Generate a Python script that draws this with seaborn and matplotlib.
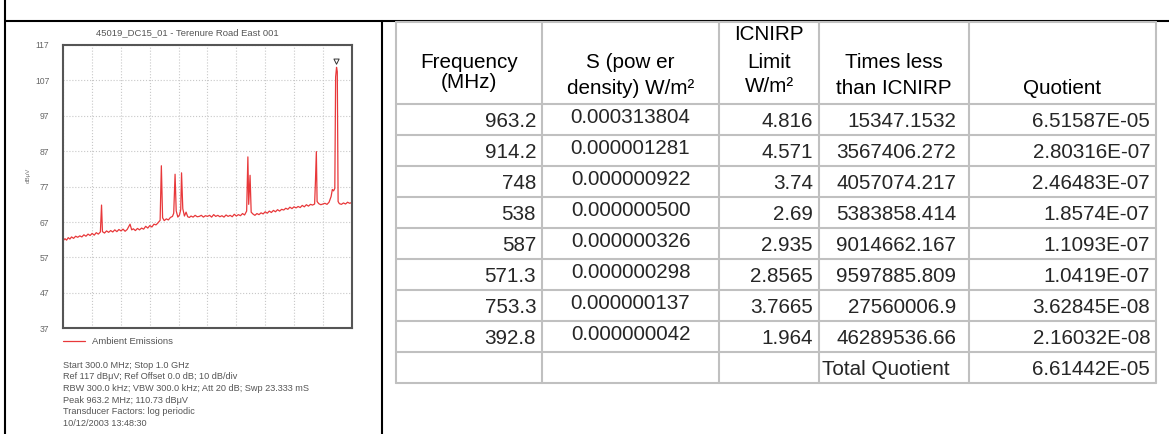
import matplotlib.pyplot as plt
import seaborn as sns

# spectrum trace (MHz, dBuV)
freq = [300, 304, 308, 312, 316, 320, 325, 330, 335, 340, 345, 350, 355, 360, 365, 370,
        375, 380, 385, 390, 392.8, 395, 400, 405, 410, 415, 420, 425, 430, 435, 440, 445,
        450, 455, 462, 466, 470, 475, 480, 485, 490, 495, 500, 505, 510, 515, 520, 525,
        530, 535, 538, 541, 545, 550, 555, 560, 565, 568, 571.3, 574, 578, 582, 585, 587,
        590, 594, 598, 602, 606, 610, 615, 620, 625, 630, 635, 640, 645, 650, 655, 660,
        665, 670, 675, 680, 685, 690, 695, 700, 705, 710, 715, 720, 725, 730, 735, 740,
        745, 748, 750, 753.3, 756, 760, 765, 770, 775, 780, 785, 790, 795, 800, 805, 810,
        815, 820, 825, 830, 835, 840, 845, 850, 855, 860, 865, 870, 875, 880, 885, 890,
        895, 900, 905, 910, 912, 914.2, 916, 920, 925, 930, 935, 940, 945, 950, 953, 956,
        959, 961, 963.2, 965, 967, 970, 975, 980, 985, 990, 995, 1000]
level = [61.8, 62.3, 61.9, 62.6, 62.2, 62.8, 62.4, 63.0, 62.7, 63.1, 62.8, 63.4, 63.0, 63.6, 63.2, 63.8,
         63.3, 64.0, 63.6, 64.2, 71.8, 64.3, 63.9, 64.5, 64.1, 64.6, 64.2, 64.8, 64.3, 64.9, 64.5, 65.0,
         64.4, 64.9, 66.4, 64.8, 65.1, 64.6, 65.2, 64.8, 65.3, 65.0, 65.8, 65.3, 66.0, 65.6, 66.4, 66.2,
         66.8, 67.5, 82.9, 68.2, 67.4, 67.9, 67.6, 68.3, 68.6, 69.5, 80.5, 70.2, 68.4, 69.0, 70.5, 80.9,
         70.8, 68.7, 69.8, 68.5, 68.3, 68.7, 68.4, 68.9, 68.5, 68.6, 68.9, 68.4, 68.8, 68.6, 68.9, 68.4,
         69.1, 68.6, 68.9, 68.5, 68.8, 68.4, 69.0, 68.6, 68.9, 68.5, 69.2, 68.7, 69.1, 68.8, 69.4, 69.0,
         70.1, 85.4, 72.0, 80.2, 69.8, 69.3, 68.9, 69.4, 69.1, 69.6, 69.3, 69.9, 69.5, 70.1, 69.7, 70.3,
         69.9, 70.5, 70.1, 70.6, 70.4, 70.9, 70.6, 71.2, 70.8, 71.3, 71.0, 71.4, 71.1, 71.7, 71.3, 71.9,
         71.5, 72.0, 71.8, 72.1, 78.5, 86.9, 72.8, 72.2, 71.9, 72.1, 72.3, 72.0, 72.6, 74.2, 76.2, 75.8,
         76.5, 108.0, 110.7, 109.5, 72.8, 72.2, 72.0, 72.4, 72.1, 72.6, 72.3, 72.5]
peak_freq = [963.2]
peak_mark = [112.3]
y_ticks = [117, 107, 97, 87, 77, 67, 57, 47, 37]

chart_title = '45019_DC15_01 - Terenure Road East 001'
legend_label = 'Ambient Emissions'
info_lines = ['Start 300.0 MHz; Stop 1.0 GHz',
              'Ref 117 dBμV; Ref Offset 0.0 dB; 10 dB/div',
              'RBW 300.0 kHz; VBW 300.0 kHz; Att 20 dB; Swp 23.333 mS',
              'Peak 963.2 MHz; 110.73 dBμV',
              'Transducer Factors: log periodic',
              '10/12/2003 13:48:30']

# table contents
col_freq = ['963.2', '914.2', '748', '538', '587', '571.3', '753.3', '392.8', '']
col_s = ['0.000313804', '0.000001281', '0.000000922', '0.000000500', '0.000000326',
         '0.000000298', '0.000000137', '0.000000042', '']
col_limit = ['4.816', '4.571', '3.74', '2.69', '2.935', '2.8565', '3.7665', '1.964', '']
col_times = ['15347.1532', '3567406.272', '4057074.217', '5383858.414', '9014662.167',
             '9597885.809', '27560006.9', '46289536.66', 'Total Quotient']
col_quot = ['6.51587E-05', '2.80316E-07', '2.46483E-07', '1.8574E-07', '1.1093E-07',
            '1.0419E-07', '3.62845E-08', '2.16032E-08', '6.61442E-05']
headers = [['Frequency', '(MHz)'],
           ['S (pow er', 'density) W/m²'],
           ['ICNIRP', 'Limit', 'W/m²'],
           ['Times less', 'than ICNIRP'],
           ['Quotient']]

sns.set_style('white')
plt.rcParams['font.family'] = ['Liberation Sans', 'DejaVu Sans']

W, H = 1169, 434
fig = plt.figure(figsize=(W / 100, H / 100), dpi=100)

# page layer in pixel coordinates
bg = fig.add_axes([0, 0, 1, 1])
bg.set_xlim(0, W)
bg.set_ylim(H, 0)
bg.axis('off')

bg.plot([5, 5], [0, H], color='black', lw=1.5)
bg.plot([5, W], [21, 21], color='black', lw=1.5)
bg.plot([382, 382], [21, H], color='black', lw=1.5)

col_edges = [396, 542, 719, 819, 969, 1156]
row_edges = [22, 104, 135, 166, 197, 228, 259, 290, 321, 352, 383]
grid_c = '#c0c0c0'
for x in col_edges:
    bg.plot([x, x], [row_edges[0], row_edges[-1]], color=grid_c, lw=1.5)
for y in row_edges:
    bg.plot([col_edges[0], col_edges[-1]], [y, y], color=grid_c, lw=1.5)

fs = 14.9
header_y = [[63, 83], [63, 88], [35, 62, 86], [62, 89], [89]]
for i, lines in enumerate(headers):
    cx = (col_edges[i] + col_edges[i + 1]) / 2
    for text, y in zip(lines, header_y[i]):
        bg.text(cx, y, text, ha='center', va='center', fontsize=fs, color='black')

for r in range(len(col_freq)):
    yc = (row_edges[r + 1] + row_edges[r + 2]) / 2 + 2
    bg.text(col_edges[1] - 6, yc, col_freq[r], ha='right', va='center', fontsize=fs)
    bg.text((col_edges[1] + col_edges[2]) / 2, yc - 4, col_s[r], ha='center', va='center', fontsize=fs)
    bg.text(col_edges[3] - 6, yc, col_limit[r], ha='right', va='center', fontsize=fs)
    if col_times[r] == 'Total Quotient':
        bg.text(col_edges[3] + 3, yc, col_times[r], ha='left', va='center', fontsize=fs)
    else:
        bg.text(col_edges[4] - 13, yc, col_times[r], ha='right', va='center', fontsize=fs)
    bg.text(col_edges[5] - 6, yc, col_quot[r], ha='right', va='center', fontsize=fs)

# spectrum chart
ax = fig.add_axes([63.3 / W, 1 - 328.3 / H, 288.4 / W, 283.3 / H])
sns.lineplot(x=freq, y=level, ax=ax, color='#e8383a', lw=0.9, estimator=None, legend=False)
ax.scatter(peak_freq, peak_mark, marker='v', s=14, facecolors='none', edgecolors='#333333', lw=0.7, zorder=5)
ax.set_xlim(300, 1000)
ax.set_ylim(37, 117)
ax.set_xticks([300 + 70 * k for k in range(11)])
ax.set_xticklabels([])
ax.set_yticks(y_ticks)
ax.set_yticklabels([str(t) for t in y_ticks])
ax.tick_params(axis='both', length=0, labelsize=6.2, labelcolor='#666666', pad=10)
ax.grid(True, color='#c8c8c8', linestyle=':', lw=0.8)
for sp in ax.spines.values():
    sp.set_color('#555555')
    sp.set_linewidth(1.5)
ax.set_xlabel('')
ax.set_ylabel('')

bg.text(187, 33, chart_title, ha='center', va='center', fontsize=6.8, color='#555555')
bg.text(28, 175, 'dBμV', ha='center', va='center', rotation=90, fontsize=4.5, color='#777777')
bg.plot([63, 85], [341, 341], color='#e8383a', lw=0.9)
bg.text(91.5, 341, legend_label, ha='left', va='center', fontsize=6.8, color='#555555')
for k, line in enumerate(info_lines):
    bg.text(63, 365 + 11.7 * k, line, ha='left', va='center', fontsize=6.6, color='#555555')

fig.savefig('out.png', dpi=100)
